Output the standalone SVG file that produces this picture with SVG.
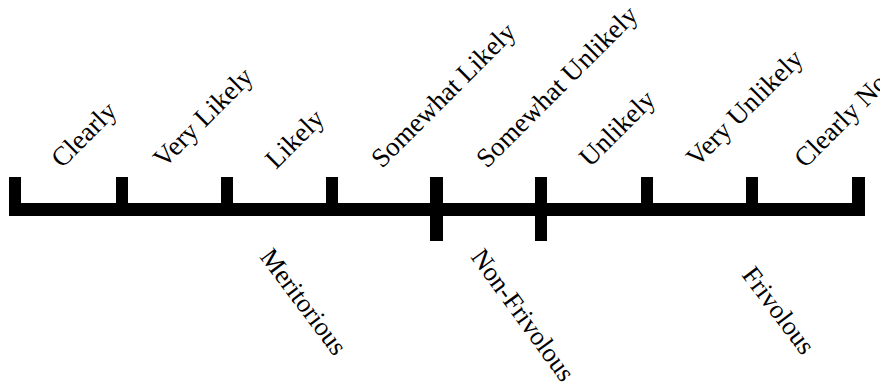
<svg xmlns="http://www.w3.org/2000/svg" width="880" height="383" viewBox="0 0 880 383">
<style>
.bar{fill:#000}
.lbl{font-family:"Liberation Serif","Times New Roman",serif;font-size:27px;fill:#000}
.low{font-size:26.5px}
</style>
<rect width="880" height="383" fill="#fff"/>
<g id="scale">
<rect class="bar" x="9" y="203" width="856" height="13"/>
<rect class="bar" x="9" y="177" width="12" height="39"/>
<rect class="bar" x="116" y="177" width="12" height="39"/>
<rect class="bar" x="221" y="177" width="12" height="39"/>
<rect class="bar" x="326" y="177" width="12" height="39"/>
<rect class="bar" x="430" y="177" width="13" height="64"/>
<rect class="bar" x="535" y="177" width="12" height="64"/>
<rect class="bar" x="641" y="177" width="12" height="39"/>
<rect class="bar" x="746" y="177" width="12" height="39"/>
<rect class="bar" x="852" y="177" width="13" height="39"/>
</g>
<g id="top-labels">
<text class="lbl" transform="translate(62,169) rotate(-45)">Clearly</text>
<text class="lbl" transform="translate(164,169) rotate(-45)">Very Likely</text>
<text class="lbl" transform="translate(276,170) rotate(-45)">Likely</text>
<text class="lbl" transform="translate(382,169) rotate(-45)">Somewhat Likely</text>
<text class="lbl" transform="translate(487,169) rotate(-45)">Somewhat Unlikely</text>
<text class="lbl" transform="translate(590,168) rotate(-45)">Unlikely</text>
<text class="lbl" transform="translate(697,168) rotate(-45)">Very Unlikely</text>
<text class="lbl" transform="translate(805,169) rotate(-45)">Clearly Not</text>
</g>
<g id="bottom-labels">
<text class="lbl low" transform="translate(259,257) rotate(53)">Meritorious</text>
<text class="lbl low" transform="translate(470,257) rotate(54)">Non-Frivolous</text>
<text class="lbl low" transform="translate(741,275) rotate(53)">Frivolous</text>
</g>
</svg>
